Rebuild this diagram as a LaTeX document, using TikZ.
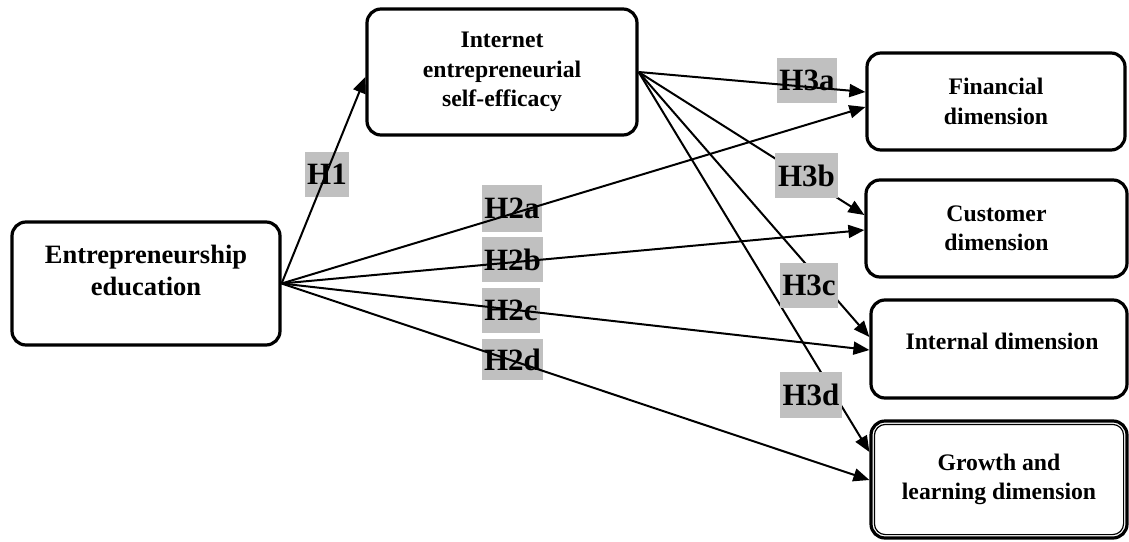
\documentclass[tikz,border=0pt]{standalone}
\usepackage{fontspec}
\setmainfont{Liberation Serif}
\usetikzlibrary{arrows.meta,calc}
\definecolor{labelgray}{RGB}{192,192,192}
\tikzset{
  box/.style={draw=black, line width=3.2pt, rounded corners=14pt, fill=white,
    align=center, inner sep=0pt, font=\fontsize{23.7}{29.5}\selectfont\bfseries},
  innerline/.style={draw=black, line width=1.2pt, rounded corners=11pt},
  hyp/.style={fill=labelgray, inner xsep=1pt, inner ysep=0pt,
    font=\fontsize{31}{31}\selectfont\bfseries},
  link/.style={line width=2pt, -{Triangle[length=16pt,width=13pt]}}
}
\begin{document}
\begin{tikzpicture}[x=1pt,y=-1pt]
\useasboundingbox (0,0) rectangle (1129,541);

% constructs
\node[box, minimum width=268pt, minimum height=123pt,
      font=\fontsize{26.5}{32}\selectfont\bfseries]
  (edu) at (146,283.5) {Entrepreneurship\\education\\[-6pt]};
\node[box, minimum width=270pt, minimum height=126pt]
  (ise) at (502,72) {Internet\\entrepreneurial\\self-efficacy};
\node[box, minimum width=258pt, minimum height=97pt]
  (fin) at (996,101.5) {Financial\\dimension};
\node[box, minimum width=261pt, minimum height=97pt]
  (cus) at (996.5,228.5) {Customer\\dimension};
\node[box, minimum width=256pt, minimum height=98pt]
  (int) at (999,349) {};
\node[font=\fontsize{23.7}{29.5}\selectfont\bfseries]
  (intlabel) at (1002,341) {Internal dimension};
\node[box, minimum width=256pt, minimum height=117pt]
  (gro) at (999,479.5) {Growth and\\learning dimension};
\draw[innerline] ([shift={(5pt,5pt)}]gro.south west)
  rectangle ([shift={(-5pt,-5pt)}]gro.north east);

% paths that run behind their labels
\draw[link] (ise.east) -- ([yshift=13.5pt]cus.west);
\draw[link] (ise.east) -- ([yshift=12pt]int.west);
\draw[link] (ise.east) -- ([yshift=27.5pt]gro.west);

% hypothesis labels
\node[hyp, minimum width=44pt, minimum height=45pt] (h1)  at (327,174.5) {H1};
\node[hyp, minimum width=60pt, minimum height=47pt] (h2a) at (512,208.5) {H2a};
\node[hyp, minimum width=61pt, minimum height=45pt] (h2b) at (512.5,259.5) {H2b};
\node[hyp, minimum width=58pt, minimum height=45pt] (h2c) at (511,310.5) {H2c};
\node[hyp, minimum width=61pt, minimum height=41pt] (h2d) at (512.5,359.5) {H2d};
\node[hyp, minimum width=60pt, minimum height=45pt] (h3a) at (807,80.5) {H3a};
\node[hyp, minimum width=63pt, minimum height=45pt] (h3b) at (806.5,175.5) {H3b};
\node[hyp, minimum width=58pt, minimum height=45pt] (h3c) at (809,285.5) {H3c};
\node[hyp, minimum width=62pt, minimum height=46pt] (h3d) at (811,395) {H3d};

% paths drawn over their labels
\draw[link] (edu.east) -- ([yshift=-5pt]ise.west);
\draw[link] (edu.east) -- ([yshift=-5.5pt]fin.west);
\draw[link] (edu.east) -- ([yshift=-1.5pt]cus.west);
\draw[link] (edu.east) -- ([yshift=-1pt]int.west);
\draw[link] (edu.east) -- ([yshift=-0.5pt]gro.west);
\draw[link] (ise.east) -- ([yshift=9.5pt]fin.west);
\end{tikzpicture}
\end{document}
